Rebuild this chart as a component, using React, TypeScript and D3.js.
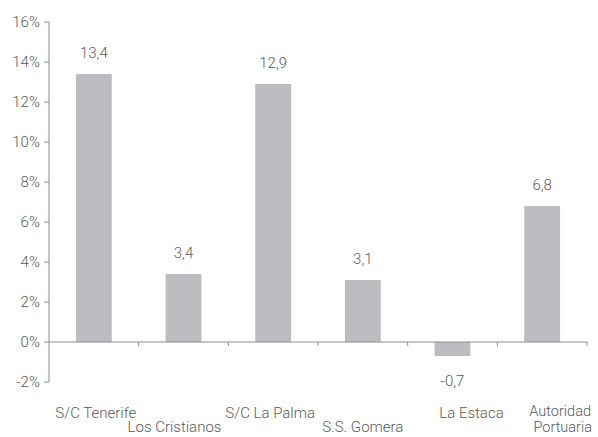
import React from "react";
import { scaleBand, scaleLinear } from "d3";

const categories = ["S/C Tenerife", "Los Cristianos", "S/C La Palma", "S.S. Gomera", "La Estaca", "Autoridad Portuaria"];
const values = [13.4, 3.4, 12.9, 3.1, -0.7, 6.8];
const valueLabels = ["13,4", "3,4", "12,9", "3,1", "-0,7", "6,8"];
const yTicks = [-2, 0, 2, 4, 6, 8, 10, 12, 14, 16];

const W = 598;
const H = 437;
const left = 49;
const right = 587;
const top = 22;
const bottom = 382;

const font = "Roboto, 'Helvetica Neue', Arial, sans-serif";
const textColor = "#5a5a5a";
const axisColor = "#8c8c8c";
const barColor = "#bdbdc1";
// the category labels sit a little off their band centre in the original
const labelShift = [2, -9, -3, 0, 19, 0];

const App: React.FC = () => {
  const x = scaleBand<string>().domain(categories).range([left, right]).paddingInner(0.6).paddingOuter(0.3);
  const band = scaleBand<string>().domain(categories).range([left, right]);
  const y = scaleLinear().domain([-2, 16]).range([bottom, top]);
  const y0 = y(0);

  return (
    <svg width={W} height={H} style={{ position: "absolute", left: 0, top: 0 }} fontFamily={font} fontWeight={300}>
      {/* bars */}
      {categories.map((c, i) => {
        const v = values[i];
        return (
          <rect
            key={c}
            x={x(c)}
            y={v >= 0 ? y(v) : y0}
            width={x.bandwidth()}
            height={Math.abs(y(v) - y0)}
            fill={barColor}
          />
        );
      })}

      {/* value labels */}
      {categories.map((c, i) => {
        const v = values[i];
        const cx = (x(c) ?? 0) + x.bandwidth() / 2;
        const ty = v >= 0 ? y(v) - 16 : y(v) + 30;
        return (
          <text key={c} x={cx} y={ty} textAnchor="middle" fontSize={15} fill={textColor}>
            {valueLabels[i]}
          </text>
        );
      })}

      {/* y axis */}
      <line x1={left} x2={left} y1={top} y2={bottom} stroke={axisColor} strokeWidth={1} />
      {yTicks.map((t) => (
        <g key={t}>
          <line x1={left - 5} x2={left} y1={y(t)} y2={y(t)} stroke={axisColor} />
          <text x={40} y={y(t) + 5} textAnchor="end" fontSize={15} fill={textColor}>
            {`${t}%`}
          </text>
        </g>
      ))}

      {/* x axis at zero */}
      <line x1={left} x2={right} y1={y0} y2={y0} stroke={axisColor} />
      {categories.map((c) => {
        const bx = (band(c) ?? 0) + band.bandwidth();
        return <line key={c} x1={bx} x2={bx} y1={y0} y2={y0 + 4} stroke={axisColor} />;
      })}

      {/* category labels, staggered */}
      {categories.map((c, i) => {
        const cx = (band(c) ?? 0) + band.bandwidth() / 2 + labelShift[i];
        const ly = i % 2 === 0 ? 418 : 432;
        if (i === categories.length - 1) {
          const parts = c.split(" ");
          return (
            <text key={c} textAnchor="end" fontSize={14.5} fill={textColor}>
              <tspan x={591} y={416}>{parts[0]}</tspan>
              <tspan x={592} y={432}>{parts[1]}</tspan>
            </text>
          );
        }
        return (
          <text key={c} x={cx} y={ly} textAnchor="middle" fontSize={15} fill={textColor}>
            {c}
          </text>
        );
      })}
    </svg>
  );
};

export default App;
